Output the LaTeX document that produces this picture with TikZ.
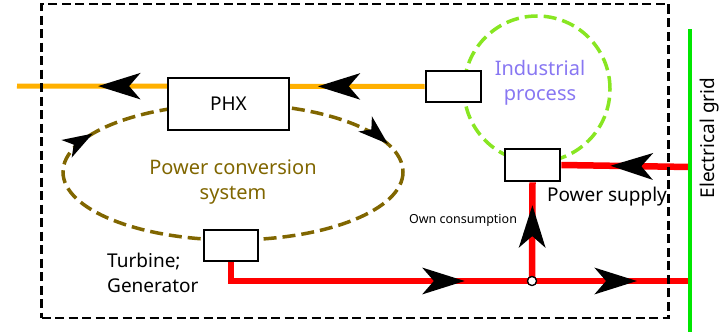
\documentclass[tikz,border=0pt]{standalone}
\usepackage{fontspec}
\setmainfont{Noto Sans}
\usetikzlibrary{arrows.meta,decorations.markings,backgrounds}

\definecolor{heatline}{HTML}{FFB000}
\definecolor{powerline}{HTML}{FF0000}
\definecolor{gridline}{HTML}{00E600}
\definecolor{procring}{HTML}{88E622}
\definecolor{proctext}{HTML}{8877F2}
\definecolor{cycle}{HTML}{806600}

\tikzset{
  unit/.style={draw=black, line width=2.8pt, fill=white, inner sep=0pt},
  label/.style={font=\fontsize{19}{25}\selectfont, inner sep=0pt},
  biglabel/.style={font=\fontsize{20}{25}\selectfont, inner sep=0pt},
  flowmark/.style={postaction={decorate, decoration={markings,
      mark=at position #1 with {\arrow[black]{Stealth[length=42pt, width=26pt, inset=11pt]}}}}},
  cyclemark/.style={postaction={decorate, decoration={markings,
      mark=at position #1 with {\arrow[black]{Stealth[length=30pt, width=20pt, inset=8pt]}}}}},
  heat/.style={heatline, line width=5pt},
  elec/.style={powerline, line width=6.5pt},
}

\begin{document}
\begin{tikzpicture}[x=1pt, y=-1pt]
\useasboundingbox (0,0) rectangle (720,332);

% power conversion cycle (drawn first so the boxes sit on top)
\draw[cycle, line width=3.5pt, dash pattern=on 13pt off 6pt,
      cyclemark=0.565, cyclemark=0.958]
  (233,172) ellipse [x radius=170, y radius=68];

% industrial process ring
\node[circle, draw=procring, line width=3.5pt, dash pattern=on 13pt off 6pt,
      minimum size=146pt, inner sep=0pt] (proc) at (537,89) {};
\node[biglabel, text=proctext, align=center] (proclbl) at (540,83) {Industrial\\process};

% component boxes
\node[unit, minimum width=121pt, minimum height=52pt] (phx) at (228.5,104) {};
\node[label] (phxlbl) at (phx.center) {PHX};
\node[unit, minimum width=55pt, minimum height=31pt] (indbox) at (453.5,86.5) {};
\node[unit, minimum width=55pt, minimum height=32pt] (supply) at (532.5,165) {};
\node[unit, minimum width=54pt, minimum height=31pt] (turbine) at (231,245.5) {};

% junction of own consumption branch
\node[circle, draw=black, fill=white, line width=1.2pt, minimum size=9pt, inner sep=0pt] (junction) at (532,281) {};

% free ends of the lines
\coordinate (westend) at (17,86);
\coordinate (gridtop) at (690,29);
\coordinate (gridbot) at (690,332);
\coordinate (gridhigh) at (690,167);
\coordinate (gridlow) at (690,281);

\begin{scope}[on background layer]
  % heat line
  \draw[heat, flowmark=0.262, flowmark=0.801] (indbox.west) -- (westend);
  % electricity lines
  \draw[elec, flowmark=0.79] (turbine.south) |- (junction.center);
  \draw[elec, flowmark=0.665] (junction.center) -- (gridlow);
  \draw[elec, flowmark=0.77] (junction.center) -- (supply.south);
  \draw[elec, flowmark=0.62] (gridhigh) -- (supply.east);
  % grid bus
  \draw[gridline, line width=4.5pt] (gridtop) -- (gridbot);
\end{scope}

% redraw junction on top of the lines
\node[circle, draw=black, fill=white, line width=1.2pt, minimum size=9pt, inner sep=0pt] at (junction) {};

% plant boundary
\node[draw=black, line width=2.4pt, dash pattern=on 9pt off 4.5pt, inner sep=0pt,
      minimum width=627pt, minimum height=314pt] (plant) at (355,161) {};

% text labels
\node[biglabel, text=cycle, align=center] (pcslbl) at (233,182.5) {Power conversion\\system};
\node[label, align=left, anchor=west] (turblbl) at (107,272.5) {Turbine;\\Generator};
\node[label] (supplylbl) at (607,197) {Power supply};
\node[font=\fontsize{12.5}{15}\selectfont, inner sep=0pt] (ownlbl) at (463,220) {Own consumption};
\node[label, rotate=90] (gridlbl) at (710,138) {Electrical grid};
\end{tikzpicture}
\end{document}
